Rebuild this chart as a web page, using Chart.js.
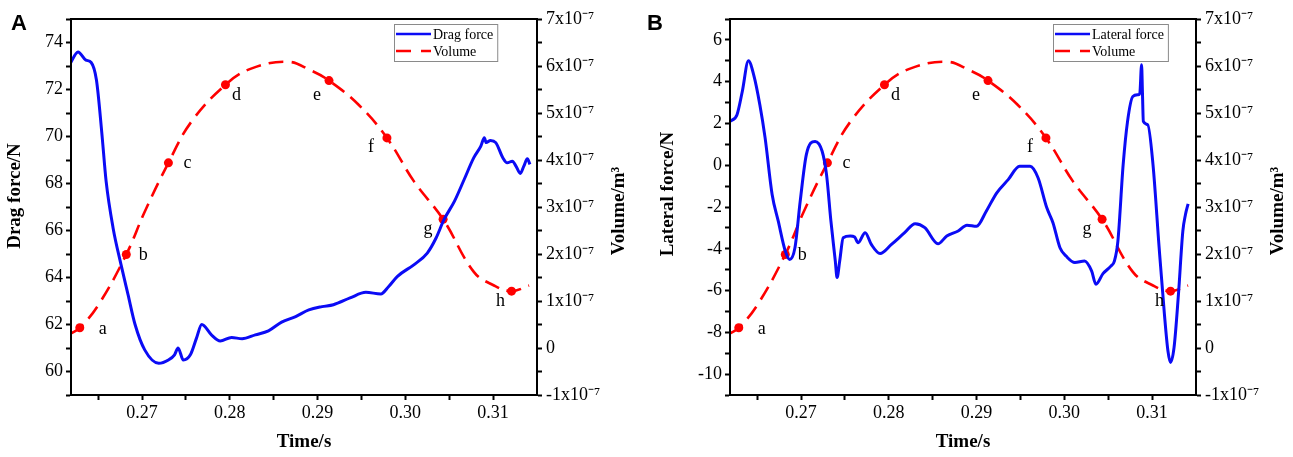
<!DOCTYPE html>
<html>
<head>
<meta charset="utf-8">
<script src="https://cdn.jsdelivr.net/npm/chart.js@4.4.1/dist/chart.umd.min.js"></script>
<style>
  body { margin: 0; background: #fff; }
  #wrap { position: relative; width: 1293px; height: 457px; }
  canvas { position: absolute; top: 0; }
  #chartA { left: 0; }
  #chartB { left: 640px; }
</style>
</head>
<body>
<div id="wrap">
  <canvas id="chartA" width="640" height="457"></canvas>
  <canvas id="chartB" width="653" height="457"></canvas>
</div>
<script>
// --- data ---
const dragTime = [0.2618,0.2627,0.2636,0.2642,0.2648,0.2654,0.2659,0.2667,0.2676,0.2684,0.2692,0.2703,0.2719,0.2730,0.2737,0.2741,0.2747,0.2755,0.2762,0.2768,0.2779,0.2789,0.2802,0.2814,0.2829,0.2844,0.2859,0.2875,0.2890,0.2905,0.2918,0.2937,0.2955,0.2972,0.2981,0.2991,0.3010,0.3025,0.3035,0.3044,0.3056,0.3067,0.3078,0.3086,0.3090,0.3092,0.3097,0.3103,0.3111,0.3116,0.3122,0.3126,0.3131,0.3135,0.3139,0.3142];
const dragForce = [73.1,73.6,73.25,73.15,72.4,70.2,68.1,66.1,64.55,63.27,62.0,60.92,60.35,60.49,60.71,61.0,60.49,60.71,61.42,62.0,61.56,61.3,61.45,61.39,61.56,61.73,62.1,62.34,62.62,62.76,62.84,63.13,63.37,63.30,63.62,64.05,64.55,65.04,65.68,66.46,67.25,68.17,69.10,69.59,69.95,69.74,69.83,69.74,69.10,68.88,68.95,68.74,68.43,68.74,69.05,68.81];

const latTime = [0.2619,0.2627,0.2633,0.2640,0.2646,0.2653,0.2659,0.2667,0.2674,0.2682,0.2687,0.2693,0.2699,0.2706,0.2716,0.2724,0.2729,0.2734,0.2739,0.2741,0.2744,0.2748,0.2756,0.2761,0.2765,0.2773,0.2780,0.2790,0.2803,0.2818,0.2830,0.2841,0.2856,0.2866,0.2879,0.2889,0.2900,0.2911,0.2923,0.2936,0.2949,0.2961,0.2970,0.2980,0.2987,0.2995,0.3002,0.3012,0.3023,0.3031,0.3036,0.3044,0.3053,0.3057,0.3061,0.3067,0.3072,0.3078,0.3084,0.3086,0.3088,0.3089,0.3090,0.3095,0.3101,0.3108,0.3114,0.3118,0.3121,0.3125,0.3130,0.3135,0.3138,0.3141];
const latForce = [2.10,2.42,3.53,5.0,4.33,2.90,1.31,-1.40,-2.68,-4.11,-4.51,-3.95,-1.72,0.51,1.14,0.67,-0.45,-2.68,-4.59,-5.38,-4.59,-3.47,-3.39,-3.44,-3.71,-3.23,-3.79,-4.23,-3.79,-3.23,-2.80,-2.99,-3.76,-3.39,-3.15,-2.87,-2.92,-2.20,-1.32,-0.69,-0.05,-0.05,-0.60,-2.04,-2.75,-3.95,-4.35,-4.66,-4.59,-5.06,-5.70,-5.19,-4.83,-4.59,-3.63,0.03,2.10,3.29,3.37,3.45,4.81,3.45,2.10,1.94,0.03,-3.95,-7.13,-8.88,-9.44,-8.72,-6.18,-3.15,-2.36,-1.85];

// volume in units of 1e-7 m^3
const volTime = [0.2619,0.2629,0.2650,0.2682,0.2703,0.2730,0.2756,0.2795,0.2825,0.2866,0.2892,0.2913,0.2947,0.2979,0.3010,0.3043,0.3078,0.3101,0.3121,0.3141];
const volume = [0.31,0.43,0.91,1.99,2.90,3.94,4.81,5.60,5.95,6.09,5.91,5.69,5.17,4.47,3.54,2.74,1.62,1.33,1.21,1.33];

const markerTime = [0.2629,0.2682,0.2730,0.2795,0.2913,0.2979,0.3043,0.3121];
const markerVol = [0.43,1.99,3.94,5.60,5.69,4.47,2.74,1.21];
const markerLabels = ['a','b','c','d','e','f','g','h'];

const xTickVals = [0.265,0.27,0.275,0.28,0.285,0.29,0.295,0.30,0.305,0.31];

// label offsets from each marker (px)
const labelOffsets = [[23,1],[17,1],[19,0],[11,10],[-12,15],[-16,9],[-15,10],[-11,10]];

const SERIF = "'Liberation Serif', 'Times New Roman', serif";
const BLUE = '#0b0bf5';
const RED = '#ff0000';

function xy(xs, ys) { return xs.map((x, i) => ({ x: x, y: ys[i] })); }

const decor = {
  id: 'decor',
  afterDatasetsDraw(chart, args, o) {
    const ctx = chart.ctx, a = chart.chartArea;
    ctx.save();
    // frame
    ctx.strokeStyle = '#000';
    ctx.lineWidth = 2;
    ctx.strokeRect(a.left, a.top, a.right - a.left, a.bottom - a.top);

    // point letters
    ctx.fillStyle = '#000';
    ctx.font = '18px ' + SERIF;
    ctx.textAlign = 'center';
    ctx.textBaseline = 'middle';
    chart.getDatasetMeta(2).data.forEach((pt, i) => {
      const off = labelOffsets[i];
      ctx.fillText(markerLabels[i], pt.x + off[0], pt.y + off[1]);
    });

    // vertical titles (both read bottom to top)
    ctx.font = 'bold 19px ' + SERIF;
    ctx.save();
    ctx.translate(o.leftTitleX, o.leftTitleY);
    ctx.rotate(-Math.PI / 2);
    ctx.fillText(o.leftTitle, 0, 0);
    ctx.restore();
    ctx.save();
    ctx.translate(a.right + 82, 211);
    ctx.rotate(-Math.PI / 2);
    ctx.fillText('Volume/m\u00B3', 0, 0);
    ctx.restore();

    // legend box
    ctx.font = '14px ' + SERIF;
    const ds = chart.data.datasets;
    const tw = Math.max(ctx.measureText(ds[0].label).width, ctx.measureText(ds[1].label).width);
    const bx = a.right - 143, by = 24, bw = 40 + tw + 3, bh = 37;
    ctx.fillStyle = '#fff';
    ctx.fillRect(bx, by, bw, bh);
    ctx.strokeStyle = '#8a8a8a';
    ctx.lineWidth = 1;
    ctx.strokeRect(bx + 0.5, by + 0.5, bw, bh);
    const rows = [by + 10, by + 27];
    ctx.lineWidth = 2.6;
    ctx.strokeStyle = ds[0].borderColor;
    ctx.beginPath(); ctx.moveTo(bx + 2, rows[0]); ctx.lineTo(bx + 37, rows[0]); ctx.stroke();
    ctx.strokeStyle = ds[1].borderColor;
    ctx.setLineDash([15, 10]);
    ctx.beginPath(); ctx.moveTo(bx + 2, rows[1]); ctx.lineTo(bx + 37, rows[1]); ctx.stroke();
    ctx.setLineDash([]);
    ctx.fillStyle = '#000';
    ctx.textAlign = 'left';
    ctx.fillText(ds[0].label, bx + 39, rows[0] + 1);
    ctx.fillText(ds[1].label, bx + 39, rows[1] + 1);

    // panel letter
    ctx.font = "bold 22px 'Liberation Sans', Arial, sans-serif";
    ctx.textBaseline = 'alphabetic';
    ctx.fillText(o.panel, o.panelX, 30);
    ctx.restore();
  }
};

function makePanel(id, opt) {
  const tickFont = { family: SERIF, size: 18 };
  return new Chart(document.getElementById(id), {
    type: 'line',
    data: {
      datasets: [
        { label: opt.forceLabel, data: xy(opt.time, opt.force), yAxisID: 'y',
          borderColor: BLUE, borderWidth: 3, pointRadius: 0, cubicInterpolationMode: 'monotone' },
        { label: 'Volume', data: xy(volTime, volume), yAxisID: 'y1',
          borderColor: RED, borderWidth: 2.6, borderDash: [15, 8], pointRadius: 0, tension: 0.4 },
        { label: 'points', data: xy(markerTime, markerVol), yAxisID: 'y1', showLine: false,
          pointRadius: 4.5, pointBackgroundColor: RED, pointBorderWidth: 0, borderColor: RED }
      ]
    },
    options: {
      responsive: false,
      animation: false,
      layout: { padding: { top: 19, left: 0, right: 0, bottom: 0 } },
      plugins: {
        legend: { display: false },
        tooltip: { enabled: false },
        decor: { leftTitle: opt.yTitle, leftTitleX: opt.titleX, leftTitleY: opt.titleY, panel: opt.panel, panelX: opt.panelX }
      },
      scales: {
        x: {
          type: 'linear', min: 0.2619, max: 0.315,
          afterBuildTicks: s => { s.ticks = xTickVals.map(v => ({ value: v })); },
          afterFit: s => { s.height = 62; },
          ticks: { autoSkip: false, maxRotation: 0, padding: 2, color: '#000', font: tickFont,
            callback: v => (Math.round(v * 1000) % 10 === 0 ? v.toFixed(2) : '') },
          grid: { drawOnChartArea: false, tickLength: 5, tickWidth: 2, tickColor: '#000' },
          border: { color: '#000', width: 2 },
          title: { display: true, text: 'Time/s', color: '#000', padding: { top: 0, bottom: 4 },
            font: { family: SERIF, size: 19, weight: 'bold' } }
        },
        y: {
          position: 'left', min: opt.yMin, max: opt.yMax,
          afterFit: s => { s.width = opt.leftW; },
          ticks: { stepSize: 1, autoSkip: false, padding: 3, color: '#000', font: tickFont,
            callback: v => (v % 2 === 0 ? String(v) : '') },
          grid: { drawOnChartArea: false, tickLength: 5, tickWidth: 2, tickColor: '#000' },
          border: { color: '#000', width: 2 }
        },
        y1: {
          position: 'right', min: -1, max: 7,
          afterFit: s => { s.width = opt.rightW; },
          ticks: { stepSize: 0.5, autoSkip: false, padding: 4, color: '#000', font: tickFont,
            callback: v => (Number.isInteger(v) ? (v === 0 ? '0' : v + 'x10\u207B\u2077') : '') },
          grid: { drawOnChartArea: false, tickLength: 5, tickWidth: 2, tickColor: '#000' },
          border: { color: '#000', width: 2 }
        }
      }
    },
    plugins: [decor]
  });
}

makePanel('chartA', { time: dragTime, force: dragForce, forceLabel: 'Drag force', yTitle: 'Drag force/N',
  yMin: 59, yMax: 75, leftW: 71, rightW: 103, titleX: 15, titleY: 196, panel: 'A', panelX: 11 });
makePanel('chartB', { time: latTime, force: latForce, forceLabel: 'Lateral force', yTitle: 'Lateral force/N',
  yMin: -11, yMax: 7, leftW: 90, rightW: 97, titleX: 28, titleY: 194, panel: 'B', panelX: 7 });
</script>
</body>
</html>
